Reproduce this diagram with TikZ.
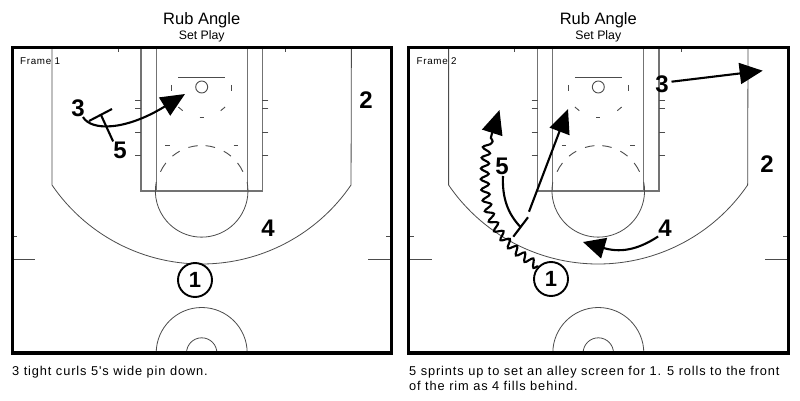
\documentclass[tikz,border=0pt]{standalone}
\usepackage{fontspec}
\setmainfont{Liberation Sans}
\newfontfamily\spaced[LetterSpace=7]{Liberation Sans}
\usetikzlibrary{arrows.meta,decorations.pathmorphing}
\definecolor{lanegray}{gray}{0.45}
\definecolor{arcgray}{gray}{0.3}
\tikzset{
  x=1pt,y=-1pt,
  lane/.style={draw=lanegray,line width=1.2pt},
  arcline/.style={draw=arcgray,line width=0.8pt},
  mark line/.style={draw=arcgray,line width=0.9pt},
  frame box/.style={draw=black,line width=3.2pt},
  move/.style={draw=black,line width=2.1pt},
  head/.style={-{Triangle[length=#1,width=21pt]}},
  player/.style={font=\bfseries\fontsize{24}{24}\selectfont,inner sep=0pt},
  ballplayer/.style={circle,draw=black,line width=1.9pt,minimum size=34pt,inner sep=0pt,fill=white,font=\bfseries\fontsize{22}{22}\selectfont},
  title text/.style={font=\fontsize{16.5}{18}\selectfont,inner sep=0pt},
  sub text/.style={font=\fontsize{12.3}{14}\selectfont,inner sep=0pt},
  frame text/.style={font=\spaced\fontsize{9.8}{12}\selectfont,inner sep=0pt,anchor=west},
  caption text/.style={font=\spaced\fontsize{12.8}{14.8}\selectfont,inner sep=0pt,anchor=base west,align=left},
}
% court drawn about its centre line x=0
\newcommand{\courtlines}{%
  \draw[arcline] (-149.7,47) -- (-149.7,185) arc[start angle=145.7,end angle=34.3,radius=181] -- (149.7,47);
  \draw[lane] (-60.7,47) -- (-60.7,191) -- (60.7,191) -- (60.7,47);
  \draw[lane] (-45.5,47) -- (-45.5,191);
  \draw[lane] (45.5,47) -- (45.5,191);
  \draw[arcline] (45.4,182) arc[start angle=-11,end angle=191,radius=46.3];
  \foreach \a/\b in {205/218,230/241,253/265,275/287,299/310,322/335}
    \draw[mark line] (\a:45.5) ++(0,191) arc[start angle=\a,end angle=\b,radius=45.5];
  \draw[mark line] (-36.5,145.5) -- (-32,145.5);
  \draw[mark line] (32,145.5) -- (36.5,145.5);
  \draw[mark line] (-23.5,77) -- (23.5,77);
  \draw[mark line] (0,87) circle[radius=6];
  \draw[mark line] (-30,85) -- (-30,91);
  \draw[mark line] (30,85) -- (30,91);
  \draw[mark line] (-23.4,107) -- (-19,110.7);
  \draw[mark line] (23.4,107) -- (19,110.7);
  \draw[mark line] (-2,117) -- (2,117);
  \foreach \y in {100,108,132,155}{
    \draw[mark line] (-66.7,\y) -- (-60.7,\y);
    \draw[mark line] (66.7,\y) -- (60.7,\y);
  }
  \draw[mark line] (-83.4,47) -- (-83.4,52);
  \draw[mark line] (83.4,47) -- (83.4,52);
  \draw[mark line] (-189.5,236) -- (-184.5,236);
  \draw[mark line] (189.5,236) -- (184.5,236);
  \draw[arcline] (-189.5,259) -- (-166.5,259);
  \draw[arcline] (189.5,259) -- (166.5,259);
  \draw[arcline] (-45.5,353) arc[start angle=180,end angle=360,radius=45.5];
  \draw[arcline] (-15.2,353) arc[start angle=180,end angle=360,radius=15.2];
}
\begin{document}
\begin{tikzpicture}
\useasboundingbox (0,0) rectangle (800,401);
\fill[white] (0,0) rectangle (800,401);

% ---------- frame 1
\begin{scope}[shift={(201.7,0)}]
  \courtlines
\end{scope}
\draw[frame box] (12.5,47.5) rectangle (391.2,353);
\node[title text] (ta) at (201.7,20) {Rub Angle};
\node[sub text] (sa) at (201.7,36.5) {Set Play};
\node[frame text] (fa) at (20,61) {Frame 1};
\node[caption text] (ca) at (12,375) {3 tight curls 5's wide pin down.};

\node[player] (a3) at (78,108) {3};
\node[player] (a5) at (120,150) {5};
\node[player] (a2) at (366,100) {2};
\node[player] (a4) at (268,228) {4};
\node[ballplayer] (a1) at (195,280) {1};

\coordinate (atip) at (185,94);
\coordinate (astart) at (83,117);
\coordinate (abarl) at (89,121);
\coordinate (abarr) at (112,109);
\coordinate (abarm) at (101,115);
\draw[move,head=24pt] (astart) .. controls (91,131) and (125,131) .. (atip);
\draw[move] (a5.north west) -- (abarm);
\draw[move] (abarl) -- (abarr);

% ---------- frame 2
\begin{scope}[shift={(598.3,0)}]
  \courtlines
\end{scope}
\draw[frame box] (408.7,47.5) rectangle (788.3,353);
\node[title text] (tb) at (598.3,20) {Rub Angle};
\node[sub text] (sb) at (598.3,36.5) {Set Play};
\node[frame text] (fb) at (416.5,61) {Frame 2};
\node[caption text] (cb) at (409,390) {5 sprints up to set an alley screen for 1. 5 rolls to the front\\of the rim as 4 fills behind.};

\node[player] (b3) at (662,84) {3};
\node[player] (b5) at (502,166) {5};
\node[player] (b2) at (767,164) {2};
\node[player] (b4) at (665,228) {4};
\node[ballplayer] (b1) at (551,279) {1};

\coordinate (b3tip) at (762.7,70.7);
\draw[move,head=23pt] (671.5,81.7) -- (b3tip);

\coordinate (bbarl) at (513.3,236.7);
\coordinate (bbarr) at (528,217.3);
\coordinate (bbarm) at (520.5,227);
\coordinate (bcuta) at (529,211.7);
\coordinate (bcutb) at (568,109);
\draw[move] (bbarl) -- (bbarr);
\draw[move,head=24pt] (bcuta) -- (bcutb);
\draw[move] (503,176) .. controls (502,198) and (508,214) .. (bbarm);

\coordinate (b4tip) at (583,242);
\draw[move,head=22pt] (b4.south west) .. controls (642,247) and (624,254) .. (b4tip);

\coordinate (bwend) at (491.5,135);
\coordinate (bwtip) at (499.5,110);
\draw[move,decorate,decoration={snake,segment length=10.5pt,amplitude=4pt}]
  (b1.north west) .. controls (512,250) and (497,232) .. (491,212)
  .. controls (485,190) and (486,160) .. (bwend);
\draw[move,head=24pt] (bwend) -- (bwtip);
\end{tikzpicture}
\end{document}
